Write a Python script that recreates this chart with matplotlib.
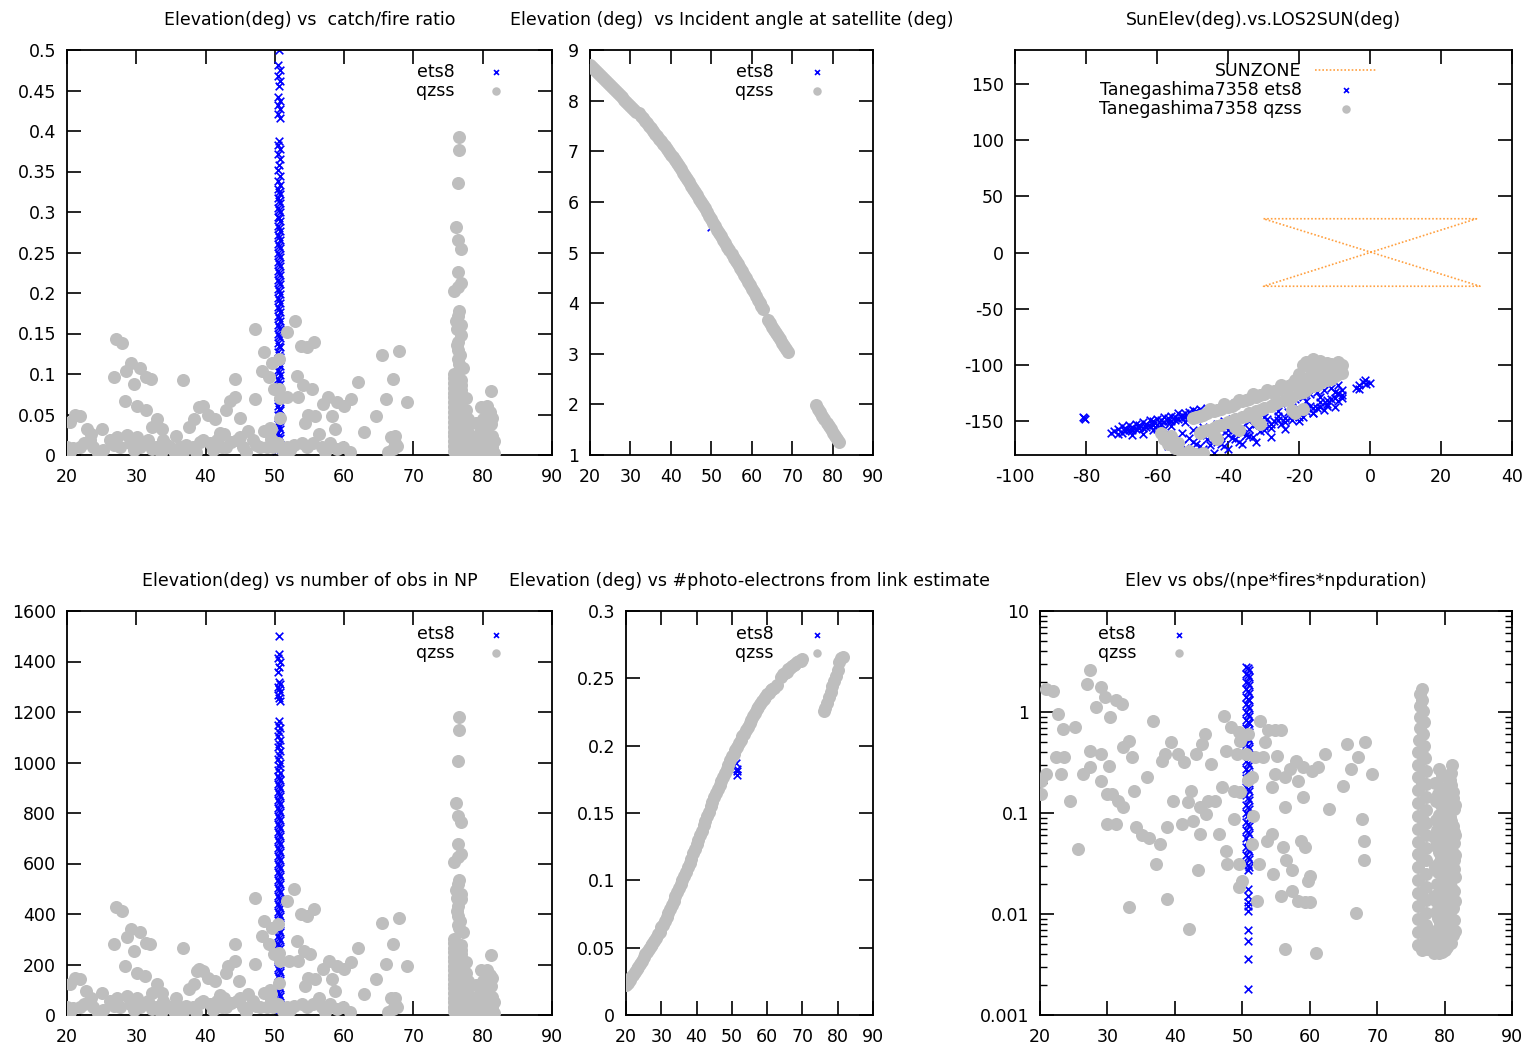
import matplotlib
matplotlib.use("Agg")
import matplotlib.pyplot as plt
from matplotlib.ticker import FuncFormatter, LogLocator, NullFormatter

# ---------------- data ----------------
# Elevation vs catch/fire ratio
ratio_ets8 = [(50.6,0.500),(50.5,0.482),(50.7,0.475),(50.5,0.468),(50.7,0.462),(50.6,0.455),(50.5,0.442),(50.7,0.437),
              (50.5,0.432),(50.7,0.427),(50.5,0.421),(50.7,0.416),(50.6,0.388),(50.5,0.383),(50.7,0.378),(50.5,0.372),
              (50.7,0.366),(50.6,0.358),(50.5,0.352),(50.7,0.345),(50.5,0.338),(50.7,0.333),
              (50.4,0.328),(50.8,0.322),(50.4,0.317),(50.8,0.311),(50.4,0.305),(50.8,0.300),(50.4,0.294),(50.8,0.289),
              (50.4,0.283),(50.8,0.277),(50.4,0.272),(50.8,0.266),(50.4,0.261),(50.8,0.255),(50.4,0.250),(50.8,0.244),
              (50.4,0.238),(50.8,0.233),(50.4,0.227),(50.8,0.222),(50.4,0.216),(50.8,0.211),(50.4,0.205),(50.8,0.199),
              (50.4,0.194),(50.8,0.188),(50.4,0.183),(50.8,0.177),(50.4,0.172),(50.8,0.166),(50.4,0.160),(50.8,0.155),
              (50.4,0.149),(50.8,0.144),(50.4,0.138),(50.8,0.133),(50.4,0.127),(50.8,0.121),(50.4,0.116),(50.8,0.110),
              (50.4,0.105),(50.8,0.099),(50.4,0.094),(50.8,0.088),(50.4,0.082),(50.8,0.077),(50.4,0.071),(50.8,0.066),
              (50.4,0.060),(50.8,0.055),(50.4,0.049),(50.8,0.043),(50.4,0.038),(50.8,0.032),(50.4,0.027),(50.8,0.021),
              (50.4,0.016),(50.8,0.010),(50.2,0.005),(50.6,0.001),
              (50.6,0.325),(50.6,0.314),(50.6,0.303),(50.6,0.292),(50.6,0.280),(50.6,0.269),(50.6,0.258),(50.6,0.247),
              (50.6,0.236),(50.6,0.225),(50.6,0.214),(50.6,0.202),(50.6,0.191),(50.6,0.180),(50.6,0.169),(50.6,0.158),
              (50.6,0.147),(50.6,0.135),(50.6,0.124),(50.6,0.113),(50.6,0.102),(50.6,0.091),(50.6,0.080),(50.6,0.068),
              (50.6,0.057),(50.6,0.046),(50.6,0.035),(50.6,0.024),(50.6,0.013)]
ratio_qzss = [(20.4,0.041),(21.1,0.050),(21.9,0.048),(22.9,0.032),(23.4,0.026),(25.1,0.032),(26.8,0.096),(27.1,0.143),
              (28.0,0.138),(28.3,0.067),(28.5,0.104),(29.2,0.114),(29.6,0.088),(30.1,0.061),(30.6,0.108),(31.4,0.096),
              (31.4,0.055),(32.1,0.094),(32.2,0.034),(33.0,0.044),(33.7,0.032),(35.7,0.024),(36.8,0.092),(37.6,0.034),
              (38.3,0.044),(39.1,0.059),(39.6,0.061),(40.4,0.050),(41.4,0.044),(42.7,0.026),(43.5,0.067),(44.3,0.071),
              (44.3,0.094),(45.0,0.046),(46.1,0.030),(47.2,0.155),(47.2,0.069),(48.4,0.127),(48.1,0.104),(49.1,0.096),
              (48.4,0.030),(49.4,0.032),(49.6,0.114),(49.9,0.081),(51.7,0.152),(52.9,0.166),(51.7,0.071),(53.3,0.071),
              (53.2,0.098),(53.8,0.135),(54.7,0.133),(55.6,0.139),(54.0,0.086),(55.3,0.081),(54.3,0.040),(54.8,0.050),
              (55.8,0.048),(56.3,0.026),(56.9,0.063),(57.7,0.071),(58.2,0.048),(58.7,0.032),(59.0,0.065),(60.0,0.061),
              (61.0,0.069),(62.0,0.090),(62.8,0.028),(64.6,0.048),(65.4,0.123),(66.0,0.069),(67.1,0.094),(67.4,0.024),
              (67.9,0.129),(69.0,0.065),(67.7,0.011),(43.0,0.056),(50.6,0.118),(50.6,0.081),(50.7,0.046),(50.8,0.070),
              (20.0,0.010),(20.5,0.004),(20.9,0.009),(21.9,0.010),(22.5,0.015),(23.3,0.0185),(23.8,0.010),(24.5,0.003),
              (25.2,0.006),(26.2,0.0185),(26.8,0.012),(27.2,0.0226),(27.6,0.010),(28.6,0.0247),(29.1,0.0144),(29.6,0.006),
              (30.1,0.0226),(30.5,0.010),(31.1,0.015),(31.7,0.0185),(32.3,0.008),(32.9,0.010),(33.5,0.003),(33.9,0.0185),
              (34.4,0.012),(34.9,0.010),(35.4,0.005),(36.3,0.010),(36.8,0.004),(37.2,0.012),(38.2,0.010),(38.6,0.004),
              (39.2,0.016),(39.7,0.0185),(40.6,0.0144),(41.1,0.006),(41.6,0.0185),(42.1,0.027),(42.4,0.010),(43.0,0.010),
              (43.6,0.016),(44.5,0.0185),(45.0,0.022),(45.4,0.010),(45.9,0.004),(46.9,0.0185),(47.3,0.012),(47.8,0.010),
              (48.8,0.010),(49.3,0.033),(49.8,0.010),(49.5,0.020),(50.5,0.0144),(51.2,0.005),(51.7,0.010),(52.2,0.006),
              (52.8,0.012),(53.9,0.0144),(54.6,0.010),(55.5,0.0144),(56.8,0.010),(57.3,0.004),(58.0,0.0144),(58.9,0.008),
              (59.9,0.010),(60.8,0.004),(66.4,0.004),(67.1,0.008),(66.8,0.0226),(67.3,0.0144),
              (76.6,0.393),(76.6,0.376),(76.5,0.336),(76.2,0.281),(76.4,0.265),(76.9,0.254),(76.4,0.226),(76.9,0.212),
              (75.9,0.202),(76.5,0.172),(76.3,0.155),(76.9,0.148),(76.5,0.140),(76.4,0.130),(77.1,0.107),(75.9,0.100),
              (76.6,0.112),(76.4,0.118),(76.7,0.124),(76.3,0.136),(76.8,0.160),(76.2,0.165),(76.6,0.178),(76.4,0.208),
              (75.9,0.095),(76.9,0.092),(75.9,0.089),(76.9,0.086),(75.9,0.083),(76.9,0.080),(75.9,0.077),(76.9,0.074),
              (75.9,0.071),(76.9,0.068),(75.9,0.065),(76.9,0.062),(75.9,0.059),(76.9,0.056),(75.9,0.053),(76.9,0.050),
              (75.9,0.047),(76.9,0.044),(75.9,0.041),(76.9,0.038),(75.9,0.035),(76.9,0.032),(75.9,0.029),(76.9,0.026),
              (75.9,0.023),(76.9,0.020),(75.9,0.017),(76.9,0.014),(75.9,0.011),(76.9,0.008),(75.9,0.005),(76.9,0.002),
              (77.8,0.003),(78.6,0.003),(79.4,0.003),(80.2,0.003),(81.0,0.003),(81.6,0.003),(78.2,0.010),(79.0,0.010),
              (79.8,0.010),(80.6,0.010),(81.4,0.010),(77.8,0.017),(78.6,0.017),(79.4,0.017),(80.2,0.017),(81.0,0.017),
              (81.6,0.017),(78.2,0.024),(79.0,0.024),(80.6,0.024),(81.4,0.024),(77.8,0.031),(79.8,0.030),(80.4,0.035),
              (81.2,0.038),(79.0,0.040),(80.0,0.045),(81.3,0.046),(79.7,0.059),(81.0,0.053),(80.6,0.060),(81.2,0.079),
              (77.6,0.070),(77.9,0.045),(77.6,0.055)]

# Elevation vs incident angle at satellite
incid_ets8 = [(50.0,5.50)]
incid_qzss = [(20,8.70),(21,8.63),(22,8.55),(23,8.47),(24,8.39),(25,8.31),(26,8.23),(27,8.15),(28,8.07),(29,7.98),
              (30,7.90),(31,7.82),(32,7.75),(33,7.65),(34,7.55),(35,7.45),(36,7.35),(37,7.25),(38,7.15),(39,7.04),
              (40,6.93),(41,6.82),(42,6.70),(43,6.58),(44,6.45),(45,6.32),(46,6.19),(47,6.06),(48,5.93),(49,5.80),
              (50,5.66),(51,5.52),(52,5.38),(53,5.25),(54,5.11),(55,4.97),(56,4.84),(57,4.70),(58,4.56),(59,4.42),
              (60,4.28),(61,4.14),(62,4.00),(62.8,3.88),(64,3.66),(65,3.53),(66,3.41),(67,3.29),(68,3.16),(69,3.04),
              (76,1.98),(77,1.84),(78,1.71),(79,1.58),(80,1.44),(81,1.31),(81.5,1.25),
              (20.5,8.67),(21.5,8.59),(22.5,8.51),(23.5,8.43),(24.5,8.35),(25.5,8.27),(26.5,8.19),(27.5,8.11),
              (28.5,8.02),(29.5,7.94),(30.5,7.86),(31.5,7.78),(32.5,7.70),(33.5,7.60),(34.5,7.50),(35.5,7.40),
              (36.5,7.30),(37.5,7.20),(38.5,7.10),(39.5,6.99),(40.5,6.88),(41.5,6.76),(42.5,6.64),(43.5,6.52),
              (44.5,6.39),(45.5,6.26),(46.5,6.13),(47.5,6.00),(48.5,5.87),(49.5,5.73),(50.5,5.59),(51.5,5.45),
              (52.5,5.32),(53.5,5.18),(54.5,5.04),(55.5,4.90),(56.5,4.77),(57.5,4.63),(58.5,4.49),(59.5,4.35),
              (60.5,4.21),(61.5,4.07),(62.4,3.94),(64.5,3.60),(65.5,3.47),(66.5,3.35),(67.5,3.22),(68.5,3.10),
              (76.5,1.91),(77.5,1.78),(78.5,1.64),(79.5,1.51),(80.5,1.38)]

# SunElev vs LOS2SUN
sunzone_x = [-30, 30, -30, 31, -30]
sunzone_y = [30, 30, -30, -30, 30]
sun_ets8 = [(-80.8,-146),(-80.2,-148),(-80.5,-147),
            (-72,-159),(-71,-157),(-70,-160),(-69,-156),(-68,-158),(-67,-155),(-66,-157),(-65,-153),(-64,-156),
            (-63,-152),(-62,-154),(-61,-150),(-60,-153),(-59,-149),(-58,-151),(-57,-147),(-56,-150),(-55,-146),
            (-54,-148),(-53,-144),(-52,-146),(-51,-142),(-50,-145),(-49,-141),(-48,-143),(-67,-162),(-64,-161),
            (-61,-158),(-58,-157),(-70,-154),(-66,-152),(-62,-149),(-58,-146),(-54,-143),(-50,-140),(-46,-138),
            (-60,-157),(-56,-154),(-52,-151),
            (-71,-161),(-69,-159),(-67,-158),(-65,-156),(-63,-155),(-61,-153),(-59,-152),(-57,-150),(-55,-149),
            (-53,-147),(-51,-146),(-49,-144),(-73,-160),(-68,-153),(-64,-151),(-60,-148),(-56,-145),(-52,-143),
            (-48,-139),
            (-46,-142),(-42,-138),(-38,-134),(-34,-130),(-30,-126),(-26,-121),(-22,-117),(-18,-113),(-14,-109),
            (-10,-105),(-8,-103),
            (-57,-172),(-55,-176),(-54,-168),(-52,-174),(-51,-165),(-50,-178),(-49,-170),(-48,-162),(-47,-175),
            (-46,-166),(-45,-171),(-44,-160),(-43,-168),(-42,-163),(-41,-172),(-40,-158),(-39,-165),(-38,-160),
            (-37,-168),(-36,-155),(-35,-162),(-34,-157),(-33,-164),(-32,-152),(-31,-159),(-30,-154),(-29,-148),
            (-28,-156),(-27,-150),(-26,-145),(-25,-152),(-24,-147),(-23,-142),(-22,-149),(-21,-144),(-20,-139),
            (-19,-146),(-18,-141),(-17,-136),(-16,-143),(-15,-138),(-14,-133),(-13,-140),(-12,-135),(-11,-130),
            (-10,-137),(-9,-132),(-8,-127),(-9,-125),
            (-56,-165),(-53,-160),(-50,-158),(-47,-155),(-45,-164),(-43,-152),(-41,-150),(-39,-148),(-37,-146),
            (-35,-144),(-33,-142),(-31,-140),(-29,-138),(-27,-136),(-25,-134),(-23,-132),(-21,-130),(-19,-128),
            (-17,-126),(-15,-124),(-13,-122),(-11,-120),(-9,-118),
            (-44,-178),(-40,-175),(-36,-170),(-32,-168),(-28,-164),(-24,-157),(-20,-150),(-16,-143),(-12,-136),
            (-8,-129),
            (-56,-170),(-53,-171),(-50,-168),(-48,-172),(-46,-161),(-44,-166),(-42,-170),(-40,-162),(-38,-166),
            (-36,-160),(-34,-163),(-33,-153),(-30,-158),(-28,-152),(-26,-149),(-24,-151),(-22,-145),(-20,-146),
            (-18,-137),(-16,-138),(-14,-137),(-12,-131),(-10,-129),(-8,-122),(-10,-124),(-14,-128),(-18,-132),
            (-22,-137),(-26,-141),(-30,-146),(-34,-150),(-38,-153),(-42,-157),
            (-3,-118),(-2,-115),(-1,-117),(0,-116),(-4,-120),(-1.5,-113),(-3,-121)]
sun_qzss = [(-50,-147),(-48,-145),(-46,-143),(-44,-141),(-42,-139),(-40,-137),(-38,-135),(-36,-132),(-34,-130),
            (-32,-128),(-30,-126),(-28,-124),(-26,-122),(-24,-120),(-22,-117),(-20,-114),(-18,-112),(-16,-109),
            (-14,-106),(-12,-104),(-10,-102),(-8,-100),(-18,-97),(-16,-95),(-14,-96),(-12,-98),(-20,-108),(-17,-103),
            (-45,-139),(-41,-135),(-37,-131),(-33,-126),(-29,-122),(-25,-118),(-21,-113),(-13,-101),(-9,-97),
            (-49,-146),(-47,-144),(-43,-140),(-39,-136),(-35,-131),(-31,-127),(-27,-123),(-23,-119),(-19,-113),
            (-15,-107),(-11,-103),(-15,-99),(-11,-99),(-19,-100),(-17,-98),
            (-48,-160),(-46,-158),(-44,-156),(-42,-153),(-40,-151),(-38,-148),(-36,-146),(-34,-143),(-32,-141),
            (-30,-138),(-28,-136),(-26,-133),(-24,-131),(-22,-128),(-20,-125),(-18,-122),(-16,-119),(-14,-116),
            (-12,-113),(-10,-110),(-8,-107),
            (-47,-159),(-43,-154),(-39,-150),(-35,-145),(-31,-140),(-27,-135),(-23,-130),(-19,-124),(-15,-118),
            (-11,-112),(-9,-108),
            (-59,-160),(-58,-166),(-57,-170),(-56,-163),(-55,-174),(-54,-169),(-53,-178),(-51,-176),(-49,-179),
            (-47,-178),(-44,-162),(-43,-166),(-38,-155),(-37,-158),(-32,-149),(-31,-152),(-22,-140),(-21,-143),
            (-19,-139)]

# Elevation vs number of obs in NP
nobs_ets8 = [(50.6,1500),(50.6,1430),(50.5,1415),(50.7,1400),(50.6,1380),(50.5,1360),(50.6,1320),(50.7,1310),
             (50.5,1300),(50.6,1290),(50.7,1280),(50.5,1268),(50.6,1255),(50.7,1245),(50.6,1165),(50.5,1150),
             (50.7,1135),(50.6,1120),(50.5,1105),(50.7,1090),(50.6,1075),(50.5,1060),(50.7,1045),(50.6,1030),
             (50.5,1012),(50.7,1000),(50.6,985),(50.5,970),(50.7,958),
             (50.4,945),(50.8,930),(50.4,914),(50.8,898),(50.4,882),(50.8,866),(50.4,850),(50.8,835),(50.4,819),
             (50.8,803),(50.4,787),(50.8,771),(50.4,755),(50.8,740),(50.4,724),(50.8,708),(50.4,692),(50.8,676),
             (50.4,660),(50.8,645),(50.4,629),(50.8,613),(50.4,597),(50.8,581),(50.4,565),(50.8,550),(50.4,534),
             (50.8,518),(50.4,502),(50.8,486),(50.4,470),(50.8,455),(50.4,439),(50.8,423),(50.4,407),(50.8,391),
             (50.4,375),(50.8,360),(50.4,344),(50.8,328),(50.4,312),(50.8,296),(50.4,280),(50.8,265),(50.4,249),
             (50.8,233),(50.4,217),(50.8,201),(50.4,185),(50.8,170),(50.4,154),(50.8,138),(50.4,122),(50.8,106),
             (50.4,90),(50.8,75),(50.4,59),(50.8,43),(50.2,27),(50.6,11),
             (50.6,937),(50.6,906),(50.6,874),(50.6,843),(50.6,811),(50.6,779),(50.6,747),(50.6,716),(50.6,684),
             (50.6,652),(50.6,621),(50.6,589),(50.6,557),(50.6,526),(50.6,494),(50.6,462),(50.6,431),(50.6,399),
             (50.6,367),(50.6,336),(50.6,304),(50.6,272),(50.6,241),(50.6,209),(50.6,177),(50.6,146),(50.6,114),
             (50.6,82),(50.6,51),(50.6,19)]
nobs_qzss = [(20.4,122),(21.1,148),(21.9,141),(22.7,95),(23.4,69),(25.1,89),(26.8,280),(27.1,426),(28.0,413),
             (28.3,194),(28.6,307),(29.3,340),(29.6,254),(30.1,168),(30.6,327),(31.4,287),(31.2,155),(32.0,280),
             (32.2,89),(33.0,122),(33.7,89),(35.7,69),(36.8,267),(37.6,102),(38.3,122),(39.1,181),(39.6,175),
             (40.4,148),(41.4,135),(42.7,69),(43.2,194),(44.3,214),(44.3,280),(44.8,135),(46.1,82),(47.2,465),
             (47.2,201),(48.4,373),(48.1,313),(49.1,280),(48.4,89),(49.4,82),(49.6,346),(49.9,241),(51.7,452),
             (52.8,498),(52.0,214),(53.3,214),(53.2,294),(53.8,399),(54.6,393),(55.6,419),(54.2,254),(55.0,241),
             (54.3,115),(54.8,148),(55.8,141),(56.3,69),(56.9,181),(57.8,214),(58.2,141),(58.7,95),(59.0,194),
             (60.0,181),(61.0,208),(62.0,267),(62.8,82),(64.6,141),(65.4,366),(66.0,201),(67.1,280),(67.4,69),
             (67.9,386),(69.0,194),(67.7,33),(50.5,360),(50.6,245),(50.8,215),(50.6,125),(43.0,168),(38.7,174),
             (20.0,30),(20.5,12),(20.9,27),(21.9,30),(22.5,45),(23.3,55),(23.8,30),(24.5,9),(25.2,18),(26.2,55),
             (26.8,36),(27.2,68),(27.6,30),(28.6,74),(29.1,43),(29.6,18),(30.1,68),(30.5,30),(31.1,45),(31.7,55),
             (32.3,24),(32.9,30),(33.5,9),(33.9,55),(34.4,36),(34.9,30),(35.4,15),(36.3,30),(36.8,12),(37.2,36),
             (38.2,30),(38.6,12),(39.2,48),(39.7,55),(40.6,43),(41.1,18),(41.6,55),(42.1,81),(42.4,30),(43.0,30),
             (43.6,48),(44.5,55),(45.0,66),(45.4,30),(45.9,12),(46.9,55),(47.3,36),(47.8,30),(48.8,30),(49.3,99),
             (49.8,30),(49.5,60),(50.5,43),(51.2,15),(51.7,30),(52.2,18),(52.8,36),(53.9,43),(54.6,30),(55.5,43),
             (56.8,30),(57.3,12),(58.0,43),(58.9,24),(59.9,30),(60.8,12),(66.4,12),(67.1,24),(66.8,68),(67.3,43),
             (76.6,1179),(76.6,1127),(76.5,1004),(76.2,838),(76.4,789),(76.9,763),(76.4,677),(76.9,637),(75.9,604),
             (76.5,518),(76.3,465),(76.9,459),(76.5,430),(76.4,393),(77.1,327),(75.9,300),(76.6,345),(76.4,355),
             (76.7,372),(76.3,410),(76.8,480),(76.2,495),(76.6,535),(76.4,625),
             (75.9,285),(76.9,276),(75.9,267),(76.9,258),(75.9,249),(76.9,240),(75.9,231),(76.9,222),(75.9,213),
             (76.9,204),(75.9,195),(76.9,186),(75.9,177),(76.9,168),(75.9,159),(76.9,150),(75.9,141),(76.9,132),
             (75.9,123),(76.9,114),(75.9,105),(76.9,96),(75.9,87),(76.9,78),(75.9,69),(76.9,60),(75.9,51),(76.9,42),
             (75.9,33),(76.9,24),(75.9,15),(76.9,6),
             (77.8,9),(78.6,9),(79.4,9),(80.2,9),(81.0,9),(81.6,9),(78.2,30),(79.0,30),(79.8,30),(80.6,30),(81.4,30),
             (77.8,51),(78.6,51),(79.4,51),(80.2,51),(81.0,51),(81.6,51),(78.2,72),(79.0,72),(80.6,72),(81.4,72),
             (77.8,93),(79.8,90),(80.4,105),(81.2,114),(79.0,120),(80.0,135),(81.3,148),(79.7,177),(81.0,159),
             (80.6,180),(81.2,237),(77.6,210),(77.9,135),(77.6,165)]

# Elevation vs #photo-electrons from link estimate
npe_ets8 = [(51.4,0.178),(51.4,0.183),(51.3,0.187),(51.5,0.181)]
npe_qzss = [(20,0.022),(21,0.026),(22,0.030),(23,0.034),(24,0.038),(25,0.043),(26,0.047),(27,0.051),(28,0.055),
            (29,0.060),(30,0.065),(31,0.070),(32,0.076),(33,0.082),(34,0.088),(35,0.094),(36,0.100),(37,0.106),
            (38,0.113),(39,0.120),(40,0.127),(41,0.134),(42,0.141),(43,0.148),(44,0.155),(45,0.162),(46,0.168),
            (47,0.174),(48,0.180),(49,0.186),(50,0.192),(51,0.197),(52,0.202),(53,0.207),(54,0.212),(55,0.217),
            (56,0.222),(57,0.227),(58,0.231),(59,0.235),(60,0.238),(61,0.241),(62,0.243),(62.7,0.245),
            (64,0.251),(65,0.254),(66,0.257),(67,0.259),(68,0.261),(69,0.263),(70,0.264),
            (76,0.226),(76.5,0.228),(77,0.232),(78,0.240),(79,0.248),(80,0.256),(80.5,0.262),(81,0.265),(81.5,0.266),
            (20.5,0.024),(21.5,0.028),(22.5,0.032),(23.5,0.036),(24.5,0.040),(25.5,0.045),(26.5,0.049),(27.5,0.053),
            (28.5,0.057),(29.5,0.062),(30.5,0.067),(31.5,0.073),(32.5,0.079),(33.5,0.085),(34.5,0.091),(35.5,0.097),
            (36.5,0.103),(37.5,0.110),(38.5,0.116),(39.5,0.123),(40.5,0.130),(41.5,0.137),(42.5,0.144),(43.5,0.151),
            (44.5,0.158),(45.5,0.165),(46.5,0.171),(47.5,0.177),(48.5,0.183),(49.5,0.189),(50.5,0.194),(51.5,0.199),
            (52.5,0.204),(53.5,0.209),(54.5,0.214),(55.5,0.219),(56.5,0.224),(57.5,0.229),(58.5,0.233),(59.5,0.236),
            (60.5,0.239),(61.5,0.242),(64.5,0.253),(65.5,0.255),(66.5,0.258),(67.5,0.260),(68.5,0.262),(69.5,0.263),
            (77.5,0.236),(78.5,0.244),(79.5,0.252)]

# Elev vs obs/(npe*fires*npduration)
norm_ets8 = [(50.6,2.8),(51.0,2.6),(50.6,2.4),(51.0,2.2),(50.6,2.0),(51.0,1.85),(50.6,1.7),(51.0,1.55),(50.6,1.4),
             (51.0,1.3),(50.6,1.2),(51.0,1.1),(50.6,1.0),(51.0,0.92),(50.6,0.84),(51.0,0.77),(50.6,0.70),(51.0,0.64),
             (50.6,0.58),(51.0,0.53),(50.6,0.48),(51.0,0.44),(50.6,0.40),(51.0,0.36),(50.6,0.33),(51.0,0.30),
             (50.6,0.27),(51.0,0.245),(50.6,0.22),(51.0,0.20),(50.6,0.18),(51.0,0.165),(50.6,0.15),(51.0,0.135),
             (50.6,0.12),(51.0,0.11),(50.6,0.10),(51.0,0.09),(50.6,0.082),(51.0,0.075),(50.6,0.068),(51.0,0.062),
             (50.6,0.056),(51.0,0.051),(50.6,0.046),(51.0,0.042),(50.6,0.038),(51.0,0.035),(50.6,0.032),(51.0,0.029),
             (50.8,0.027),(50.8,0.0178),(50.8,0.0151),(50.8,0.013),(50.8,0.0121),(50.8,0.0107),(50.8,0.0070),
             (50.8,0.0054),(50.8,0.0036),(50.8,0.0018),
             (50.8,2.7),(50.8,2.3),(50.8,1.92),(50.8,1.62),(50.8,1.35),(50.8,1.15),(50.8,0.96),(50.8,0.80),
             (50.8,0.67),(50.8,0.555),(50.8,0.46),(50.8,0.38),(50.8,0.315),(50.8,0.258),(50.8,0.21),(50.8,0.172),
             (50.8,0.142),(50.8,0.115),(50.8,0.095),(50.8,0.078),(50.8,0.065),(50.8,0.053),(50.8,0.044),
             (50.8,0.0365),(50.8,0.0305)]
norm_qzss = [(20.1,0.154),(20.1,0.209),(20.9,0.244),(20.9,1.70),(22.0,1.63),(22.6,0.96),(22.3,0.356),(23.4,0.68),
             (23.1,0.244),(23.6,0.356),(24.5,0.132),(25.2,0.718),(25.7,0.044),(26.4,0.244),(26.9,1.90),(27.4,2.58),
             (27.4,0.415),(27.4,0.284),(28.3,1.12),(29.1,1.76),(29.1,0.385),(29.1,0.209),(29.6,1.40),(29.9,0.154),
             (30.2,0.294),(29.9,0.078),(30.7,0.154),(30.4,0.89),(31.3,1.30),(31.5,0.132),(32.1,1.20),(31.3,0.078),
             (32.3,0.448),(33.2,0.52),(32.3,0.114),(33.2,0.0116),(33.7,0.356),(34.0,0.166),(34.2,0.072),(35.1,0.060),
             (35.9,0.226),(36.2,0.057),(36.7,0.82),(37.2,0.031),(37.8,0.049),(38.1,0.33),(38.6,0.385),(38.9,0.014),
             (38.9,0.072),(39.4,0.50),(39.7,0.132),(40.5,0.385),(41.0,0.078),(41.3,0.318),(41.9,0.128),(42.1,0.0071),
             (42.4,0.166),(42.7,0.084),(43.2,0.385),(43.5,0.027),(43.8,0.114),(43.8,0.062),(44.0,0.483),(44.4,0.607),
             (44.6,0.098),(44.9,0.132),(45.4,0.306),(46.0,0.132),(46.5,0.062),(47.0,0.18),(47.3,0.92),(47.6,0.415),
             (47.6,0.042),(47.8,0.031),(48.4,0.71),(48.7,0.087),(48.7,0.166),(49.2,0.385),(49.5,0.0183),(49.5,0.031),
             (49.7,0.160),(50.0,0.021),(49.5,0.63),(49.7,0.52),(51.4,0.226),(51.6,0.094),(51.4,0.049),(52.2,0.0135),
             (52.5,0.031),(52.7,0.82),(51.9,0.356),(53.0,0.356),(53.3,0.50),(53.8,0.66),(54.9,0.66),(55.7,0.66),
             (53.6,0.053),(54.4,0.062),(54.6,0.025),(54.4,0.18),(54.9,0.244),(55.2,0.37),(55.7,0.0151),(56.0,0.046),
             (56.3,0.0045),(56.3,0.114),(56.3,0.226),(56.5,0.034),(57.1,0.273),(57.4,0.027),(57.4,0.017),(57.9,0.33),
             (58.2,0.209),(58.2,0.0135),(58.7,0.053),(59.0,0.143),(59.0,0.284),(59.3,0.046),(59.3,0.013),(59.8,0.021),
             (60.1,0.024),(60.1,0.013),(60.3,0.263),(60.9,0.0041),(61.2,0.284),(62.3,0.385),(62.8,0.110),(65.0,0.187),
             (65.5,0.483),(66.1,0.273),(66.9,0.0103),(67.1,0.356),(67.7,0.087),(68.0,0.053),(68.0,0.034),(68.2,0.50),
             (69.3,0.244),(50.9,0.60),(50.6,0.38),(50.8,0.21),
             (76.6,1.70),(76.4,1.50),(76.7,1.32),(76.3,1.15),(76.8,1.02),(76.4,0.90),(76.9,0.80),(76.3,0.70),
             (76.8,0.61),(76.2,0.53),(77.0,0.46),(76.1,0.40),(77.1,0.35),(76.0,0.30),(77.2,0.26),(76.0,0.225),
             (77.3,0.195),(76.0,0.168),(77.3,0.145),(76.0,0.125),(77.3,0.108),(76.0,0.093),(77.3,0.080),(76.0,0.069),
             (77.3,0.060),(76.0,0.052),(77.3,0.045),(76.0,0.039),(77.3,0.034),(76.0,0.029),(77.3,0.025),
             (76.0,0.0215),(77.3,0.0185),(76.0,0.016),(77.3,0.0138),(76.0,0.0119),(77.3,0.0103),(76.0,0.0089),
             (77.3,0.0077),(76.0,0.0066),(77.3,0.0057),(76.0,0.0049),(77.0,0.0045),(76.6,0.0044),(76.6,0.38),
             (76.6,0.20),(76.6,0.09),(76.6,0.035),(76.6,0.015),(76.6,0.0068),(77.5,0.0058),(78.0,0.0058),
             (77.6,0.0045),(78.4,0.0041),(79.2,0.0041),
             (81.1,0.30),(80.1,0.23),(81.0,0.19),(80.5,0.165),(79.0,0.155),(81.3,0.14),(80.3,0.13),(79.4,0.12),
             (81.4,0.11),(79.8,0.10),(80.8,0.092),(78.7,0.085),(81.3,0.075),(79.9,0.070),(79.2,0.063),(80.6,0.057),
             (81.4,0.050),(78.8,0.047),(80.1,0.043),(81.2,0.040),(79.4,0.036),(80.6,0.032),(78.6,0.029),(81.4,0.028),
             (79.8,0.025),(80.9,0.022),(78.9,0.020),(79.9,0.018),(81.4,0.017),(78.5,0.015),(80.5,0.014),
             (79.4,0.0125),(81.3,0.0115),(78.7,0.0105),(80.2,0.0095),(81.4,0.0088),(79.3,0.0082),(80.8,0.0074),
             (78.6,0.0068),(81.3,0.0062),(79.8,0.0058),(80.9,0.0052),(79.0,0.0048),(80.4,0.0047),(78.8,0.0043),
             (79.6,0.0042),(80.0,0.0044),(81.4,0.034),(81.4,0.065),(79.0,0.026),(80.3,0.011),(81.0,0.015),
             (78.5,0.058),(79.6,0.24),(78.6,0.20),(80.9,0.25),
             (79.2,0.27),(80.8,0.21),(79.6,0.175),(81.2,0.16),(80.0,0.145),(78.8,0.13),(81.5,0.12),(80.6,0.11),
             (79.2,0.095),(81.0,0.083),(80.2,0.078),(78.9,0.068),(81.5,0.060),(79.8,0.052),(80.9,0.046),(79.1,0.041),
             (81.5,0.038),(80.2,0.033),(79.0,0.031),(80.8,0.028),(81.5,0.023),(80.3,0.021),(79.3,0.019),(81.0,0.0185),
             (80.0,0.016),(78.8,0.0135),(81.5,0.0135),(79.8,0.012),(80.8,0.0105),(79.0,0.0092),(81.0,0.0082),
             (80.2,0.0072),(81.5,0.0068),(79.5,0.0064),(80.5,0.0058)]

elev_ticks = [20, 30, 40, 50, 60, 70, 80, 90]

# ---------------- figure ----------------
plt.rcParams["font.family"] = ["DejaVu Sans"]
plt.rcParams["font.size"] = 12.5

W, H = 1537, 1047
fig = plt.figure(figsize=(W / 100, H / 100), dpi=100)
GREY = "#bebebe"
BLUE = "#0000ff"
fmt = FuncFormatter(lambda v, p: "%g" % v)


def px_axes(x0, y0, x1, y1):
    return fig.add_axes([x0 / W, 1 - y1 / H, (x1 - x0) / W, (y1 - y0) / H])


def frame(ax, title, xlim, ylim, xticks, yticks):
    ax.set_xlim(*xlim)
    ax.set_ylim(*ylim)
    ax.set_xticks(xticks)
    ax.set_yticks(yticks)
    ax.xaxis.set_major_formatter(fmt)
    ax.yaxis.set_major_formatter(fmt)
    ax.tick_params(which="major", direction="in", length=10.4, width=1.2,
                   top=True, right=True, labelsize=12.5)
    ax.tick_params(axis="x", pad=9.5)
    ax.tick_params(axis="y", pad=8)
    for s in ax.spines.values():
        s.set_linewidth(1.3)
    ax.set_title(title, fontsize=12.5, pad=18)


def points(ax, ets8, qzss, lab_e="ets8", lab_q="qzss"):
    ex, ey = zip(*ets8)
    qx, qy = zip(*qzss)
    ax.scatter(ex, ey, marker="x", s=30, c=BLUE, linewidths=1.2, label=lab_e, zorder=2)
    ax.scatter(qx, qy, marker="o", s=88, c=GREY, linewidths=0, label=lab_q, zorder=3)


def key(ax, xr, yt, hl=1.0, pad=1.9):
    ax.legend(loc="upper right", bbox_to_anchor=(xr, yt), frameon=False, markerfirst=False,
              handlelength=hl, handletextpad=pad, borderpad=0, borderaxespad=0,
              labelspacing=0.05, scatterpoints=1, markerscale=0.65, fontsize=12.5)


# top left
ax = px_axes(67, 50, 552, 455)
points(ax, ratio_ets8, ratio_qzss)
frame(ax, "Elevation(deg) vs  catch/fire ratio", (20, 90), (0, 0.5), elev_ticks,
      [0, 0.05, 0.1, 0.15, 0.2, 0.25, 0.3, 0.35, 0.4, 0.45, 0.5])
key(ax, 0.9025, 0.968)

# top middle
ax = px_axes(590, 50, 873, 455)
points(ax, incid_ets8, incid_qzss)
frame(ax, "Elevation (deg)  vs Incident angle at satellite (deg)", (20, 90), (1, 9), elev_ticks,
      [1, 2, 3, 4, 5, 6, 7, 8, 9])
key(ax, 0.833, 0.968, pad=2.0)

# top right
ax = px_axes(1015, 50, 1512, 455)
ax.plot(sunzone_x, sunzone_y, ls=(0, (1, 1.2)), color="#ffa040", lw=1.2, label="SUNZONE", zorder=1)
points(ax, sun_ets8, sun_qzss, "Tanegashima7358 ets8", "Tanegashima7358 qzss")
frame(ax, "SunElev(deg).vs.LOS2SUN(deg)", (-100, 40), (-180, 180),
      [-100, -80, -60, -40, -20, 0, 20, 40], [-150, -100, -50, 0, 50, 100, 150])
key(ax, 0.728, 0.970, hl=3.57, pad=0.75)

# bottom left
ax = px_axes(67, 611, 552, 1015)
points(ax, nobs_ets8, nobs_qzss)
frame(ax, "Elevation(deg) vs number of obs in NP", (20, 90), (0, 1600), elev_ticks,
      [0, 200, 400, 600, 800, 1000, 1200, 1400, 1600])
key(ax, 0.9025, 0.965)

# bottom middle
ax = px_axes(626, 611, 873, 1015)
points(ax, npe_ets8, npe_qzss)
frame(ax, "Elevation (deg) vs #photo-electrons from link estimate", (20, 90), (0, 0.3), elev_ticks,
      [0, 0.05, 0.1, 0.15, 0.2, 0.25, 0.3])
key(ax, 0.808, 0.965, pad=2.0)

# bottom right (log)
ax = px_axes(1040, 611, 1512, 1015)
points(ax, norm_ets8, norm_qzss)
ax.set_yscale("log")
frame(ax, "Elev vs obs/(npe*fires*npduration)", (20, 90), (0.001, 10), elev_ticks,
      [0.001, 0.01, 0.1, 1, 10])
ax.yaxis.set_minor_locator(LogLocator(base=10, subs=[2, 3, 4, 5, 6, 7, 8, 9]))
ax.yaxis.set_minor_formatter(NullFormatter())
ax.tick_params(which="minor", direction="in", length=5, width=1.0, left=True, right=True)
key(ax, 0.313, 0.965, pad=1.97)

fig.savefig("out.png", dpi=100)
